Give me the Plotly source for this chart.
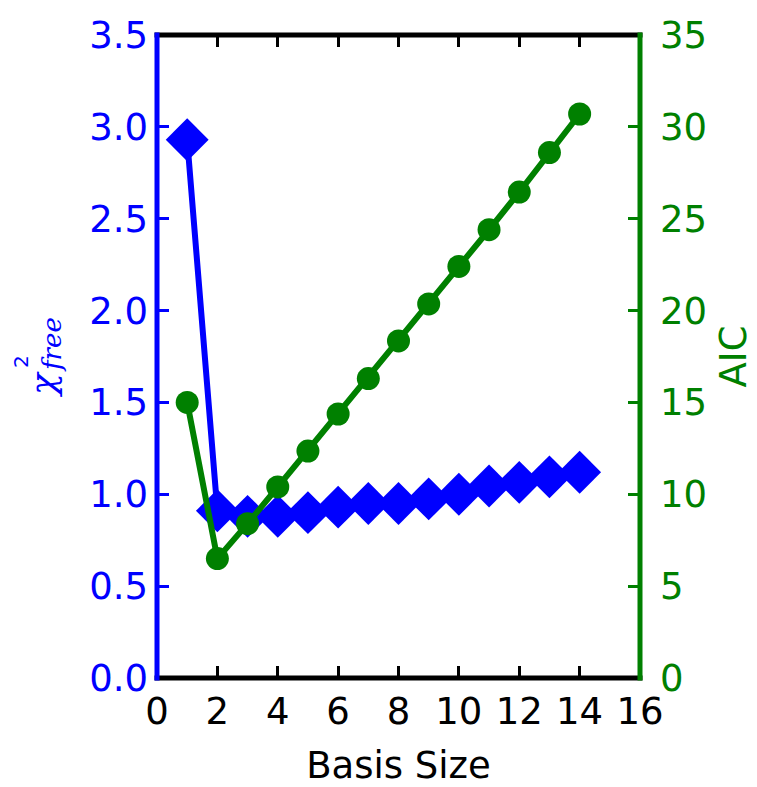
import plotly.graph_objects as go

basis_size = [1, 2, 3, 4, 5, 6, 7, 8, 9, 10, 11, 12, 13, 14]
chi2_free = [2.93, 0.91, 0.88, 0.88, 0.90, 0.93, 0.95, 0.95, 0.975, 1.0, 1.045, 1.065, 1.095, 1.12]
aic = [15.0, 6.5, 8.4, 10.4, 12.35, 14.37, 16.3, 18.35, 20.36, 22.4, 24.4, 26.45, 28.6, 30.7]

x_ticks = [0, 2, 4, 6, 8, 10, 12, 14, 16]
y1_ticks = [0.0, 0.5, 1.0, 1.5, 2.0, 2.5, 3.0, 3.5]
y2_ticks = [0, 5, 10, 15, 20, 25, 30, 35]

BLUE = "#0000ff"
GREEN = "#008000"
FONT = "DejaVu Sans"
FS = 37
SPINE_W = 5

# page has an 8px body margin; figure is shrunk so it fits the 757x787 window
W, H = 749, 779
OFF = 8
PL, PR, PT, PB = 157, 640, 35, 678  # desired plot-area edges in page pixels

fig = go.Figure()
fig.add_trace(go.Scatter(
    x=basis_size, y=chi2_free, mode="lines+markers",
    line=dict(color=BLUE, width=6),
    marker=dict(symbol="diamond", size=33, color=BLUE),
    yaxis="y", showlegend=False, cliponaxis=False))
fig.add_trace(go.Scatter(
    x=basis_size, y=aic, mode="lines+markers",
    line=dict(color=GREEN, width=6),
    marker=dict(symbol="circle", size=23, color=GREEN),
    yaxis="y2", showlegend=False, cliponaxis=False))

fig.update_layout(
    width=W, height=H,
    margin=dict(l=PL - OFF, r=W - (PR - OFF), t=PT - OFF, b=H - (PB - OFF), pad=0),
    paper_bgcolor="white", plot_bgcolor="white",
    font=dict(family=FONT, size=FS, color="black"),
    xaxis=dict(
        range=[0, 16], tickvals=x_ticks, ticktext=[str(v) for v in x_ticks],
        automargin=False,
        showgrid=False, zeroline=False, showline=False, mirror="ticks",
        ticks="inside", ticklen=12, tickwidth=3, tickcolor="black",
        tickfont=dict(family=FONT, size=FS, color="black"),
        ticklabelstandoff=8,
        title=dict(text="Basis Size", font=dict(family=FONT, size=FS, color="black"), standoff=22),
    ),
    yaxis=dict(
        range=[0, 3.5], tickvals=y1_ticks, ticktext=[f"{v:.1f}" for v in y1_ticks],
        automargin=False,
        showgrid=False, zeroline=False, showline=False,
        ticks="inside", ticklen=12, tickwidth=3, tickcolor=BLUE,
        tickfont=dict(family=FONT, size=FS, color=BLUE),
        ticklabelstandoff=8,
    ),
    yaxis2=dict(
        range=[0, 35], tickvals=y2_ticks, ticktext=[str(v) for v in y2_ticks],
        overlaying="y", side="right",
        automargin=False,
        showgrid=False, zeroline=False, showline=False,
        ticks="inside", ticklen=12, tickwidth=3, tickcolor=GREEN,
        tickfont=dict(family=FONT, size=FS, color=GREEN),
        ticklabelstandoff=19,
        title=dict(text="AIC", font=dict(family=FONT, size=FS, color=GREEN), standoff=14),
    ),
)

# axis frame (spines) drawn as paper-referenced lines
ex = (SPINE_W / 2.0) / (PR - PL)
ey = (SPINE_W / 2.0) / (PB - PT)
for y0 in (0, 1):
    fig.add_shape(type="line", xref="paper", yref="paper", x0=-ex, x1=1 + ex, y0=y0, y1=y0,
                  line=dict(color="black", width=SPINE_W), layer="above")
fig.add_shape(type="line", xref="paper", yref="paper", x0=0, x1=0, y0=-ey, y1=1 + ey,
              line=dict(color=BLUE, width=SPINE_W), layer="above")
fig.add_shape(type="line", xref="paper", yref="paper", x0=1, x1=1, y0=-ey, y1=1 + ey,
              line=dict(color=GREEN, width=SPINE_W), layer="above")

# chi^2_free label built from rotated pieces (positions in page pixels -> paper)
def px(xp):
    return (xp - PL) / float(PR - PL)

def py(yp):
    return (PB - yp) / float(PB - PT)

SERIF = "DejaVu Serif"
fig.add_annotation(text="<i>χ</i>", x=px(42), y=py(385), xref="paper", yref="paper",
                   showarrow=False, textangle=-90, xanchor="center", yanchor="middle",
                   font=dict(family=SERIF, size=36, color=BLUE))
fig.add_annotation(text="2", x=px(21), y=py(362), xref="paper", yref="paper",
                   showarrow=False, textangle=-90, xanchor="center", yanchor="middle",
                   font=dict(family=FONT, size=20, color=BLUE))
fig.add_annotation(text="<i>free</i>", x=px(52), y=py(345), xref="paper", yref="paper",
                   showarrow=False, textangle=-90, xanchor="center", yanchor="middle",
                   font=dict(family=SERIF, size=26, color=BLUE))

fig.write_html("out.html")
